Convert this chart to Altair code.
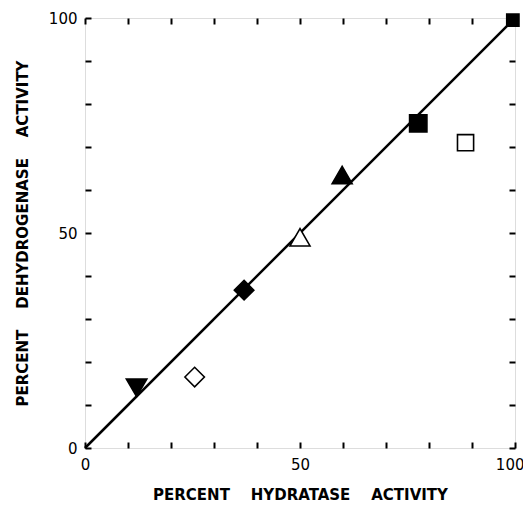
import altair as alt
import pandas as pd

# data
hydratase = [12, 25.5, 37, 50, 59.8, 77.5, 88.5, 99.5]
dehydrogenase = [14, 16.5, 36.7, 49, 63.5, 75.5, 71, 99.5]
markers = ["triangle-down", "diamond", "diamond", "triangle-up", "triangle-up", "square", "square", "square"]
filled = ["black", "white", "black", "white", "black", "black", "white", "black"]
sizes = [420, 380, 380, 400, 400, 300, 260, 150]

line_x = [0, 100]
line_y = [0, 100]

tick_values = list(range(0, 101, 10))
label_values = [0, 50, 100]

pts = pd.DataFrame({"x": hydratase, "y": dehydrogenase, "m": markers, "f": filled, "s": sizes})
ln = pd.DataFrame({"x": line_x, "y": line_y})

FONT = "DejaVu Sans"
GAP = "\u00a0\u00a0\u00a0\u00a0"
lab_expr = "indexof([" + ",".join(str(v) for v in label_values) + "], datum.value) >= 0 ? datum.label : ''"

xscale = alt.Scale(domain=[0, 100], nice=False, zero=False)
yscale = alt.Scale(domain=[0, 100], nice=False, zero=False)

common = dict(values=tick_values, offset=-6, tickSize=6, tickWidth=2, tickColor="black",
              domain=False, grid=False)

line = alt.Chart(ln).mark_line(color="black", strokeWidth=2.5).encode(
    x=alt.X("x:Q", scale=xscale, axis=alt.Axis(
        orient="bottom", labelExpr=lab_expr, labelFont=FONT, labelFontSize=15,
        labelColor="black", labelPadding=9, labelFlush=False,
        labelAlign=alt.ExprRef(expr="datum.value == 100 ? 'right' : 'center'"),
        labelOffset=alt.ExprRef(expr="datum.value == 100 ? 9 : 0"),
        title=GAP.join(["PERCENT", "HYDRATASE", "ACTIVITY"]), titleFont=FONT,
        titleFontSize=15, titleFontWeight="bold", titleColor="black", titlePadding=15,
        **common)),
    y=alt.Y("y:Q", scale=yscale, axis=alt.Axis(
        orient="left", labelExpr=lab_expr, labelFont=FONT, labelFontSize=15,
        labelColor="black", labelPadding=8, labelFlush=False,
        title=GAP.join(["PERCENT", "DEHYDROGENASE", "ACTIVITY"]), titleFont=FONT,
        titleFontSize=15, titleFontWeight="bold", titleColor="black", titlePadding=18,
        **common)),
)

points = alt.Chart(pts).mark_point(filled=False, stroke="black", strokeWidth=1.6, opacity=1).encode(
    x=alt.X("x:Q", scale=xscale, axis=alt.Axis(orient="top", labels=False, title=None, **common)),
    y=alt.Y("y:Q", scale=yscale, axis=alt.Axis(orient="right", labels=False, title=None, **common)),
    shape=alt.Shape("m:N", scale=None, legend=None),
    fill=alt.Fill("f:N", scale=None, legend=None),
    size=alt.Size("s:Q", scale=None, legend=None),
)

chart = alt.layer(line, points).resolve_axis(x="independent", y="independent").properties(
    width=430, height=430,
    autosize=alt.AutoSizeParams(type="none"),
    padding={"left": 77, "top": 10, "right": 8, "bottom": 60},
).configure_view(stroke="black", strokeWidth=3).configure(background="white")

chart.save("out.html", embed_options={"renderer": "svg", "actions": False})
